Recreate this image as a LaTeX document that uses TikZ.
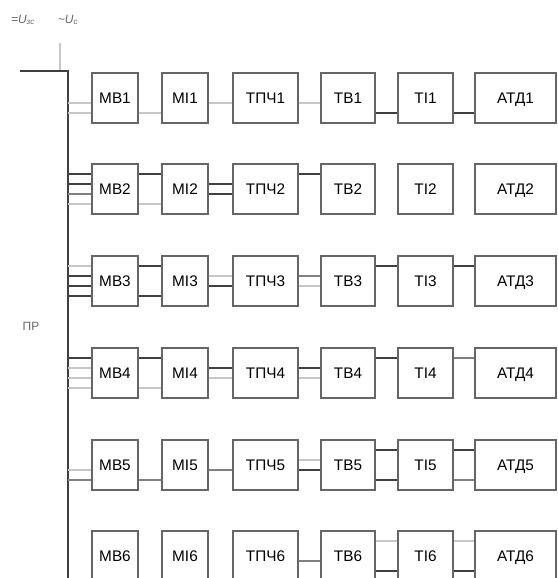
\documentclass[tikz,border=0pt]{standalone}
\usepackage{fontspec}
\setmainfont{Liberation Sans}
\begin{document}
\begin{tikzpicture}[x=0.75pt,y=-0.75pt,
        block/.style={draw=black!60,line width=0.8pt,minimum height=37.5pt,inner sep=0pt,
            text height=8.5pt,text depth=0pt,font=\fontsize{11.5}{13}\selectfont},
        dk/.style={draw=black!75,line width=0.8pt},
        md/.style={draw=black!50,line width=0.8pt},
        lt/.style={draw=black!22,line width=0.8pt}]
    \useasboundingbox (0,0) rectangle (557,578);

    % supply labels and bus
    \node[font=\small\itshape,text=black!60] (uz) at (23,20) {=U\textsubscript{зс}};
    \node[font=\small\itshape,text=black!60] (uc) at (68,20) {\textasciitilde U\textsubscript{с}};
    \node[font=\small,text=black!60] (pr) at (31,326) {ПР};
    \coordinate (stub) at (60,43);
    \coordinate (stubb) at (60,71);
    \coordinate (busl) at (20,71);
    \coordinate (bustop) at (68,71);
    \coordinate (busend) at (68,578);
    \draw[lt] (stub) -- (stubb);
    \draw[dk,line width=1pt] (busl) -- (bustop) -- (busend);

    % blocks
    \foreach \r/\y in {1/98,2/189,3/281,4/373,5/465,6/556} {
        \node[block,minimum width=34.5pt] (mb\r) at (115,\y) {МВ\r};
        \node[block,minimum width=34.5pt] (mi\r) at (185,\y) {МІ\r};
        \node[block,minimum width=48.75pt] (tpch\r) at (265.5,\y) {ТПЧ\r};
        \node[block,minimum width=40.5pt] (tv\r) at (348,\y) {ТВ\r};
        \node[block,minimum width=41.25pt] (ti\r) at (425.5,\y) {ТІ\r};
        \node[block,minimum width=60.75pt] (atd\r) at (515.5,\y) {АТД\r};
        \coordinate (b\r) at (68,\y);
    }

    % bus to MB
    \foreach \r/\o/\s in {1/5/lt,1/15/lt,
            2/-15/dk,2/-5/dk,2/5/md,2/15/lt,
            3/-15/lt,3/-5/dk,3/5/dk,3/15/dk,
            4/-15/dk,4/-5/lt,4/5/lt,4/15/lt,
            5/5/lt,5/15/md}
        \draw[\s] ([shift={(0,\o)}]b\r) -- ([shift={(0,\o)}]mb\r.west);

    % links between blocks
    \foreach \a/\b/\o/\s in {mb1/mi1/15/lt,mi1/tpch1/5/lt,tpch1/tv1/5/lt,tv1/ti1/15/dk,ti1/atd1/15/dk,
            mb2/mi2/-15/dk,mb2/mi2/15/lt,mi2/tpch2/-5/dk,mi2/tpch2/5/dk,tpch2/tv2/-15/dk,
            mb3/mi3/-15/dk,mb3/mi3/15/dk,mi3/tpch3/-5/lt,mi3/tpch3/5/dk,tpch3/tv3/-5/md,tpch3/tv3/5/lt,tv3/ti3/-15/dk,ti3/atd3/-15/dk,
            mb4/mi4/-15/dk,mb4/mi4/15/lt,mi4/tpch4/-5/dk,mi4/tpch4/5/lt,tpch4/tv4/-5/dk,tpch4/tv4/5/lt,tv4/ti4/-15/dk,ti4/atd4/-15/md,
            mb5/mi5/15/md,mi5/tpch5/5/md,tpch5/tv5/-5/lt,tpch5/tv5/5/dk,tv5/ti5/-15/dk,tv5/ti5/15/dk,ti5/atd5/-15/dk,ti5/atd5/15/md,
            tpch6/tv6/5/md,tv6/ti6/-15/lt,tv6/ti6/15/dk,ti6/atd6/-15/lt,ti6/atd6/15/dk}
        \draw[\s] ([shift={(0,\o)}]\a.east) -- ([shift={(0,\o)}]\b.west);
\end{tikzpicture}
\end{document}
